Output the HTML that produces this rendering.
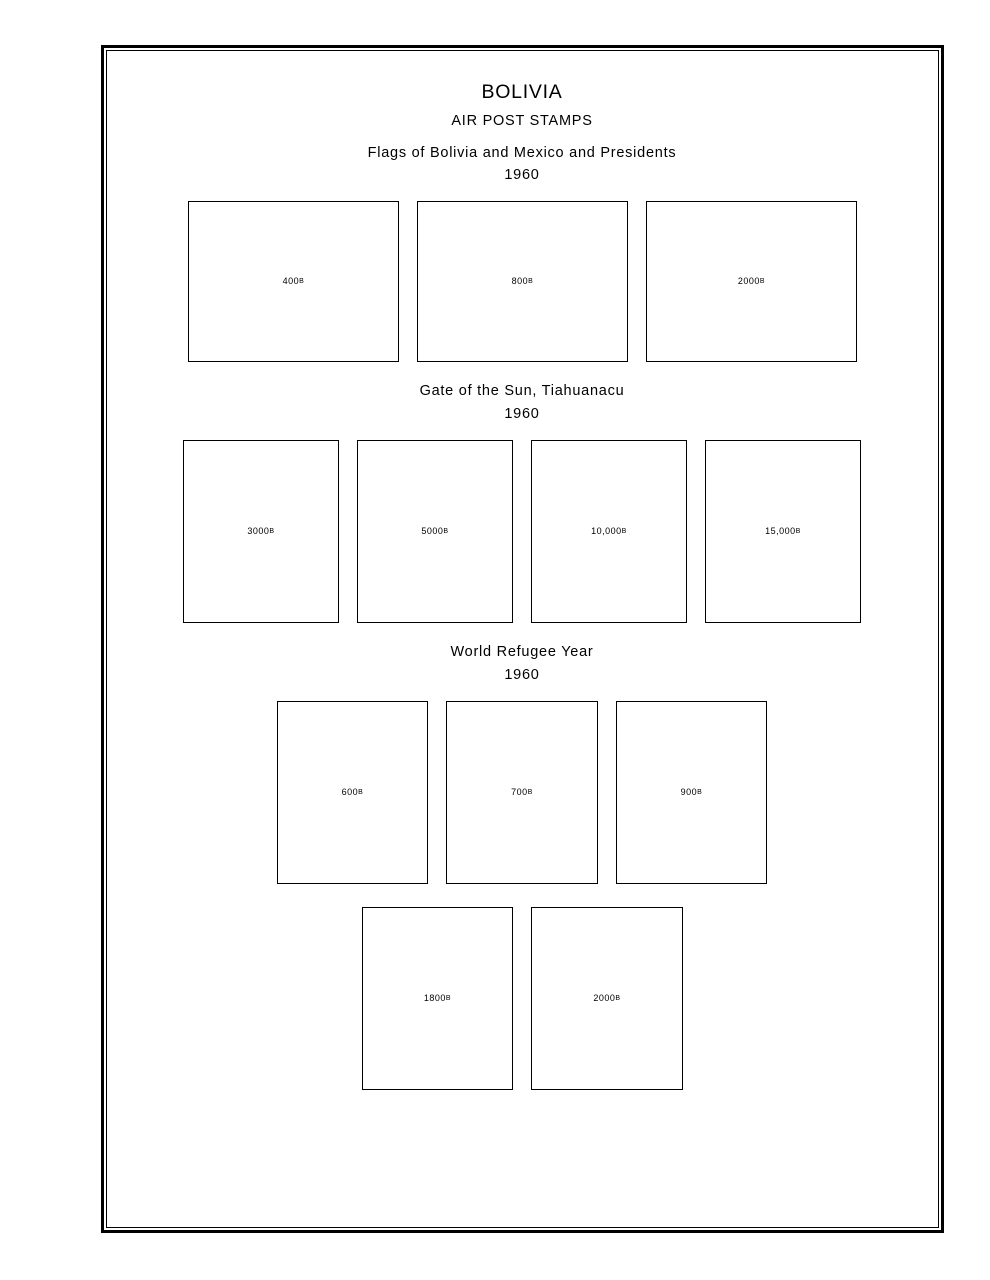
<!DOCTYPE html>
<html><head><meta charset="utf-8"><style>
body{margin:0;width:990px;height:1280px;background:#fff;position:relative;font-family:"Liberation Sans",sans-serif;color:#000}
.a{position:absolute;box-sizing:border-box}
.t{position:absolute;left:0;width:1044px;text-align:center;letter-spacing:0.75px}
.b{position:absolute;border:1px solid #000;box-sizing:border-box;display:flex;align-items:center;justify-content:center;font-size:9px;letter-spacing:0.5px;line-height:9px}
.b small{font-size:7px;vertical-align:baseline}
</style></head><body>
<div class="a" style="left:101px;top:45px;width:843px;height:1188px;border:3px solid #000"></div>
<div class="a" style="left:106px;top:50px;width:833px;height:1178px;border:1px solid #000"></div>
<div class="t" style="top:81px;font-size:19.5px">BOLIVIA</div>
<div class="t" style="top:113px;font-size:14.5px">AIR POST STAMPS</div>
<div class="t" style="top:145px;font-size:14.5px">Flags of Bolivia and Mexico and Presidents</div>
<div class="t" style="top:167px;font-size:14.5px">1960</div>
<div class="b" style="left:188px;top:201px;width:211px;height:161px">400<small>B</small></div>
<div class="b" style="left:417px;top:201px;width:211px;height:161px">800<small>B</small></div>
<div class="b" style="left:646px;top:201px;width:211px;height:161px">2000<small>B</small></div>
<div class="t" style="top:383px;font-size:14.5px">Gate of the Sun, Tiahuanacu</div>
<div class="t" style="top:406px;font-size:14.5px">1960</div>
<div class="b" style="left:183px;top:440px;width:156px;height:183px">3000<small>B</small></div>
<div class="b" style="left:357px;top:440px;width:156px;height:183px">5000<small>B</small></div>
<div class="b" style="left:531px;top:440px;width:156px;height:183px">10,000<small>B</small></div>
<div class="b" style="left:705px;top:440px;width:156px;height:183px">15,000<small>B</small></div>
<div class="t" style="top:644px;font-size:14.5px">World Refugee Year</div>
<div class="t" style="top:667px;font-size:14.5px">1960</div>
<div class="b" style="left:277px;top:701px;width:151px;height:183px">600<small>B</small></div>
<div class="b" style="left:446px;top:701px;width:152px;height:183px">700<small>B</small></div>
<div class="b" style="left:616px;top:701px;width:151px;height:183px">900<small>B</small></div>
<div class="b" style="left:362px;top:907px;width:151px;height:183px">1800<small>B</small></div>
<div class="b" style="left:531px;top:907px;width:152px;height:183px">2000<small>B</small></div>
</body></html>
